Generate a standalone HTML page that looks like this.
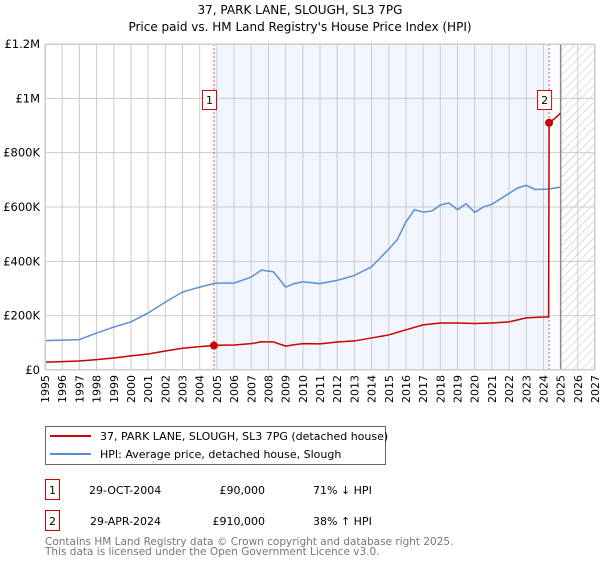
<!DOCTYPE html>
<html><head><meta charset="utf-8"><style>
body{margin:0;background:#fff;font-family:"DejaVu Sans","Liberation Sans",sans-serif;}
svg text{font-family:"DejaVu Sans","Liberation Sans",sans-serif;}
</style></head><body>
<svg id="c" width="600" height="560" viewBox="0 0 600 560" xmlns="http://www.w3.org/2000/svg">
<defs><pattern id="hatch" width="6" height="6" patternUnits="userSpaceOnUse" patternTransform="rotate(45)"><line x1="0" y1="0" x2="0" y2="6" stroke="#bbb" stroke-width="1"/></pattern></defs>
<text x="300" y="14" text-anchor="middle" font-size="12">37, PARK LANE, SLOUGH, SL3 7PG</text>
<text x="300" y="31" text-anchor="middle" font-size="12">Price paid vs. HM Land Registry's House Price Index (HPI)</text>
<g id="plot"></g>
<g>
<rect x="45.5" y="426.5" width="340" height="38" fill="#fff" stroke="#666"/>
<line x1="50" y1="436" x2="91" y2="436" stroke="#cc0000" stroke-width="2"/>
<text x="100" y="440" font-size="11">37, PARK LANE, SLOUGH, SL3 7PG (detached house)</text>
<line x1="50" y1="454" x2="91" y2="454" stroke="#5b8fd4" stroke-width="2"/>
<text x="100" y="458" font-size="11">HPI: Average price, detached house, Slough</text>
</g>
<g font-size="11">
<rect x="45.5" y="479.5" width="14" height="20" fill="#fff" stroke="#cc0000"/><text x="52.5" y="494" text-anchor="middle">1</text>
<text x="89" y="494">29-OCT-2004</text><text x="265" y="494" text-anchor="end">£90,000</text><text x="313" y="494">71% ↓ HPI</text>
<rect x="45.5" y="510.5" width="14" height="20" fill="#fff" stroke="#cc0000"/><text x="52.5" y="525" text-anchor="middle">2</text>
<text x="90" y="525">29-APR-2024</text><text x="265" y="525" text-anchor="end">£910,000</text><text x="313" y="525">38% ↑ HPI</text>
</g>
<text x="45" y="545" font-size="10.5" fill="#777">Contains HM Land Registry data © Crown copyright and database right 2025.</text>
<text x="45" y="555" font-size="10.5" fill="#777">This data is licensed under the Open Government Licence v3.0.</text>
</svg>
<script>
const hpiYears=[1995,1996,1997,1998,1999,2000,2001,2002,2003,2004,2004.8,2005,2006,2007,2007.6,2008.3,2009,2009.5,2010,2011,2012,2013,2014,2015,2015.5,2016,2016.5,2017,2017.5,2018,2018.5,2019,2019.5,2020,2020.5,2021,2021.5,2022,2022.5,2023,2023.5,2024,2024.5,2025];
const hpiValues=[108,110,112,136,158,177,210,250,287,305,318,320,320,342,368,361,305,318,325,318,330,348,380,445,480,545,590,581,585,607,615,590,612,580,600,610,630,650,670,680,665,665,668,673];
const redYears=[1995,1996,1997,1998,1999,2000,2001,2002,2003,2004,2004.83,2005,2006,2007,2007.6,2008.3,2009,2009.5,2010,2011,2012,2013,2014,2015,2016,2017,2018,2019,2020,2021,2022,2023,2024,2024.3,2024.33,2024.5,2024.7,2025];
const redValues=[29,31,33,38,44,52,59,70,80,86,90,91,92,97,104,103,88,93,97,96,103,107,118,129,148,166,173,173,171,173,177,192,195,195,910,918,928,946];
const yTicks=[0,200,400,600,800,1000,1200];
const yTickLabels=["£0","£200K","£400K","£600K","£800K","£1M","£1.2M"];
const sales=[{label:"1",year:2004.83,value:90},{label:"2",year:2024.33,value:910}];
const NS="http://www.w3.org/2000/svg";
const X0=45,X1=595,Y0=370,Y1=44,YMIN=1995,YMAX=2027,VMAX=1200;
const sx=y=>X0+(y-YMIN)/(YMAX-YMIN)*(X1-X0);
const sy=v=>Y0-v/VMAX*(Y0-Y1);
const g=document.getElementById('plot');
function mk(t,a){const e=document.createElementNS(NS,t);for(const k in a)e.setAttribute(k,a[k]);g.appendChild(e);return e;}
let e;
e=mk('rect',{x:X0,y:Y1,width:X1-X0,height:Y0-Y1,fill:'#fff'});


e=mk('rect',{x:sx(sales[0].year),y:Y1,width:sx(sales[1].year)-sx(sales[0].year),height:Y0-Y1,fill:'#f0f5fe'});


e=mk('rect',{x:sx(2025),y:Y1,width:X1-sx(2025),height:Y0-Y1,fill:'url(#hatch)'});


for(let yr=YMIN;yr<=YMAX;yr++){
 e=mk('line',{x1:sx(yr),x2:sx(yr),y1:Y1,y2:Y0,stroke:'#ccc','stroke-width':1});
 
 
 const t=mk('text',{x:0,y:0,'font-size':11,'text-anchor':'end',transform:`translate(${sx(yr)+4},375) rotate(-90)`});
 t.textContent=yr;
 
 
}
yTicks.forEach((v,i)=>{
 e=mk('line',{x1:X0,x2:X1,y1:sy(v),y2:sy(v),stroke:'#ccc','stroke-width':1});
 
 
 const t=mk('text',{x:40,y:sy(v)+4,'font-size':11.5,'text-anchor':'end'});
 t.textContent=yTickLabels[i];
 
 
});
e=mk('line',{x1:sx(2025),x2:sx(2025),y1:Y1,y2:Y0,stroke:'#888','stroke-width':1.5});


sales.forEach(s=>{
 e=mk('line',{x1:sx(s.year),x2:sx(s.year),y1:Y1,y2:Y0,stroke:'#ee5555','stroke-width':1,'stroke-dasharray':'2,2'});
 
 
});
e=mk('polyline',{points:hpiYears.map((y,i)=>sx(y)+','+sy(hpiValues[i])).join(' '),fill:'none',stroke:'#5b8fd4','stroke-width':1.5});


e=mk('polyline',{points:redYears.map((y,i)=>sx(y)+','+sy(redValues[i])).join(' '),fill:'none',stroke:'#cc0000','stroke-width':1.5});


sales.forEach(s=>{
 e=mk('circle',{cx:sx(s.year),cy:sy(s.value),r:4,fill:'#cc0000'});
 
 
 e=mk('rect',{x:sx(s.year)-11.5,y:90.5,width:14,height:19,fill:'#fff',stroke:'#cc0000'});
 
 
 const t=mk('text',{x:sx(s.year)-4.5,y:104,'font-size':11,'text-anchor':'middle'});
 t.textContent=s.label;
 
 
});
e=mk('rect',{x:X0+0.5,y:Y1+0.5,width:X1-X0-1,height:Y0-Y1-1,fill:'none',stroke:'#ccc'});


</script>
</body></html>
